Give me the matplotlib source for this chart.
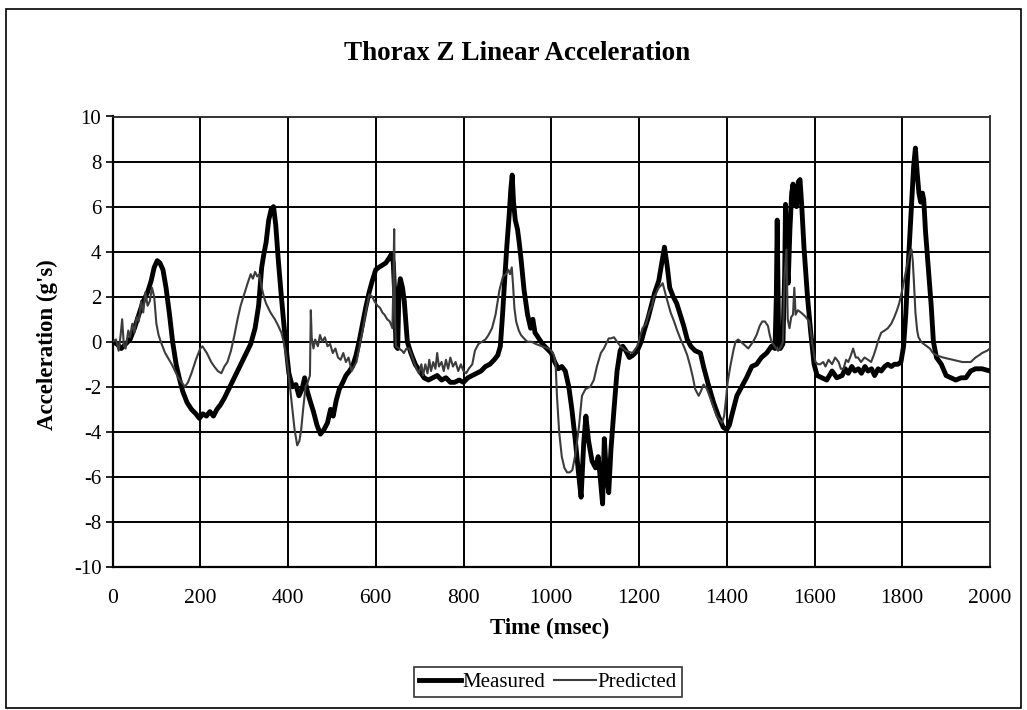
import matplotlib
matplotlib.use("Agg")
import matplotlib.pyplot as plt
from matplotlib.patches import Rectangle

plt.rcParams['font.family'] = ['Liberation Serif', 'DejaVu Serif']
plt.rcParams['axes.unicode_minus'] = False

title = "Thorax Z Linear Acceleration"
x_label = "Time (msec)"
y_label = "Acceleration (g's)"
series_names = ["Measured", "Predicted"]
x_ticks = [0, 200, 400, 600, 800, 1000, 1200, 1400, 1600, 1800, 2000]
y_ticks = [-10, -8, -6, -4, -2, 0, 2, 4, 6, 8, 10]

meas_t = [0, 10, 20, 30, 40, 50, 60, 70, 80, 88, 95, 102, 108, 115, 122, 130, 137, 145, 152, 160,
          170, 180, 190, 198, 206, 214, 222, 230, 238, 246, 255, 265, 275, 285, 295, 305, 315, 325,
          333, 340, 345, 350, 356, 362, 367, 372, 378, 384, 390, 396, 402, 410, 418, 425, 432, 438,
          444, 450, 458, 466, 474, 482, 490, 497, 503, 510, 517, 525, 532, 540, 547, 555, 562, 570,
          577, 585, 592, 600, 607, 615, 623, 630, 636, 640, 643, 646, 650, 653, 656, 661, 665, 672,
          680, 690, 700, 710, 720, 730, 740, 750, 760, 770, 780, 790, 800, 810, 820, 830, 840, 850,
          860, 870, 878, 884, 889, 894, 899, 904, 908, 911, 914, 918, 923, 927, 931, 938, 946, 953,
          958, 963, 970, 980, 990, 1000, 1008, 1016, 1024, 1032, 1040, 1047, 1055, 1062, 1068, 1074,
          1079, 1085, 1093, 1101, 1107, 1112, 1117, 1121, 1126, 1131, 1136, 1143, 1150, 1157, 1163,
          1170, 1178, 1186, 1196, 1205, 1212, 1220, 1228, 1236, 1245, 1252, 1258, 1264, 1270, 1278,
          1286, 1294, 1302, 1310, 1318, 1328, 1340, 1347, 1358, 1370, 1381, 1392, 1400, 1406, 1411,
          1423, 1434, 1445, 1457, 1468, 1479, 1491, 1502, 1510, 1513, 1515, 1518, 1522, 1528, 1532,
          1534, 1537, 1540, 1544, 1548, 1551, 1555, 1559, 1563, 1567, 1571, 1576, 1584, 1591, 1599,
          1606, 1617, 1628, 1640, 1651, 1663, 1670, 1677, 1685, 1692, 1700, 1707, 1715, 1722, 1730,
          1737, 1745, 1752, 1760, 1767, 1775, 1782, 1790, 1797, 1803, 1808, 1813, 1818, 1822, 1826,
          1830, 1834, 1838, 1842, 1846, 1849, 1853, 1860, 1866, 1871, 1878, 1889, 1900, 1911, 1922,
          1934, 1945, 1956, 1967, 1982, 2000]
meas_v = [0.0, -0.1, -0.3, -0.1, 0.1, 0.6, 1.2, 1.8, 2.2, 2.7, 3.3, 3.6, 3.5, 3.2, 2.4, 1.2, 0.0, -1.0, -1.6, -2.2,
          -2.7, -3.0, -3.2, -3.4, -3.2, -3.3, -3.1, -3.3, -3.0, -2.8, -2.5, -2.1, -1.7, -1.3, -0.9, -0.5, -0.1, 0.6,
          1.6, 3.3, 3.9, 4.4, 5.4, 5.9, 6.0, 5.2, 3.6, 2.2, 0.9, -0.3, -1.4, -2.0, -1.9, -2.4, -2.1, -1.6,
          -2.2, -2.6, -3.1, -3.7, -4.1, -3.9, -3.6, -3.0, -3.3, -2.6, -2.1, -1.8, -1.5, -1.3, -1.1, -0.6, 0.0, 0.8,
          1.5, 2.2, 2.7, 3.2, 3.3, 3.4, 3.5, 3.7, 3.9, 3.5, 2.2, -0.2, -0.3, 2.3, 2.8, 2.4, 1.8, 0.0,
          -0.5, -1.0, -1.3, -1.6, -1.7, -1.6, -1.5, -1.7, -1.6, -1.8, -1.8, -1.7, -1.8, -1.6, -1.5, -1.4, -1.3, -1.1,
          -1.0, -0.8, -0.6, -0.2, 1.2, 2.8, 4.3, 5.6, 6.8, 7.4, 6.2, 5.4, 5.0, 4.4, 3.7, 2.3, 1.2, 0.6,
          1.0, 0.4, 0.2, -0.1, -0.3, -0.5, -0.9, -1.2, -1.1, -1.3, -2.0, -3.0, -4.4, -5.8, -6.9, -4.5,
          -3.3, -4.4, -5.3, -5.6, -5.1, -6.1, -7.2, -4.3, -6.0, -6.7, -4.8, -3.0, -1.3, -0.4, -0.2,
          -0.4, -0.7, -0.6, -0.4, 0.0, 0.5, 1.0, 1.6, 2.2, 2.7, 3.5, 4.2, 3.4, 2.4, 2.0,
          1.7, 1.2, 0.7, 0.1, -0.2, -0.4, -0.5, -1.1, -1.9, -2.7, -3.3, -3.8, -3.9, -3.7, -3.3,
          -2.4, -2.0, -1.6, -1.1, -1.0, -0.7, -0.5, -0.2, -0.3, 2.0, 5.4, 0.5, -0.3, -0.1, 3.0,
          6.1, 3.5, 2.6, 5.0, 6.6, 7.0, 6.2, 6.0, 7.1, 7.2, 6.0, 4.2, 2.0, 0.5, -1.0,
          -1.5, -1.6, -1.7, -1.3, -1.6, -1.5, -1.2, -1.4, -1.1, -1.3, -1.2, -1.4, -1.1, -1.3, -1.2,
          -1.5, -1.2, -1.3, -1.1, -1.0, -1.1, -1.0, -1.0, -0.9, -0.2, 1.2, 3.2, 5.0, 6.5, 7.8,
          8.6, 7.5, 6.6, 6.2, 6.6, 6.3, 4.9, 3.1, 1.6, 0.0, -0.7, -1.0, -1.5, -1.6, -1.7,
          -1.6, -1.6, -1.3, -1.2, -1.2, -1.3]

pred_t = [0, 8, 14, 18, 22, 26, 30, 36, 40, 45, 50, 55, 60, 65, 70, 75, 80, 85, 90, 95, 100, 105, 110,
          120, 135, 150, 165, 172, 180, 190, 200, 205, 215, 225, 232, 240, 248, 255, 262, 270, 278, 285,
          292, 300, 308, 315, 320, 325, 330, 335, 340, 345, 350, 360, 370, 378, 385, 390, 395, 400, 405,
          410, 415, 421, 426, 430, 435, 440, 445, 450, 452, 454, 458, 462, 468, 473, 478, 484, 490, 496,
          502, 508, 514, 520, 526, 532, 538, 545, 550, 556, 562, 570, 577, 585, 592, 597, 604, 610, 615,
          620, 626, 632, 638, 640, 642, 644, 646, 653, 660, 664, 670, 676, 682, 687, 693, 698, 704, 708,
          713, 718, 722, 726, 731, 736, 740, 744, 750, 755, 760, 765, 770, 776, 782, 788, 794, 800, 806,
          812, 820, 826, 834, 842, 850, 857, 865, 873, 882, 890, 897, 902, 906, 910, 913, 916, 920, 926,
          931, 940, 946, 955, 965, 979, 994, 1000, 1006, 1010, 1013, 1018, 1024, 1030, 1036, 1042, 1048,
          1055, 1063, 1070, 1078, 1089, 1097, 1104, 1113, 1120, 1125, 1131, 1136, 1143, 1150, 1158, 1170,
          1185, 1196, 1208, 1216, 1223, 1230, 1234, 1240, 1245, 1250, 1254, 1258, 1262, 1272, 1280, 1287,
          1295, 1302, 1310, 1317, 1323, 1328, 1336, 1341, 1347, 1355, 1366, 1377, 1385, 1389, 1394, 1398,
          1402, 1408, 1415, 1420, 1426, 1432, 1438, 1449, 1460, 1468, 1475, 1481, 1487, 1494, 1498, 1502,
          1509, 1517, 1524, 1528, 1532, 1536, 1539, 1543, 1547, 1551, 1554, 1557, 1562, 1569, 1575, 1580,
          1588, 1592, 1595, 1602, 1608, 1613, 1620, 1625, 1632, 1640, 1647, 1655, 1660, 1666, 1672, 1677,
          1683, 1688, 1694, 1699, 1706, 1714, 1722, 1729, 1735, 1740, 1746, 1752, 1760, 1767, 1775, 1782,
          1788, 1793, 1800, 1804, 1808, 1812, 1815, 1818, 1821, 1824, 1827, 1830, 1834, 1837, 1843, 1849,
          1856, 1863, 1870, 1878, 1893, 1915, 1937, 1956, 1967, 1975, 1982, 1993, 2000]
pred_v = [0.0, 0.1, -0.4, 0.2, 1.0, -0.2, -0.3, 0.5, 0.2, 0.8, 0.4, 1.1, 0.9, 1.8, 1.3, 2.2, 1.6, 1.8, 2.4, 2.0, 0.8, 0.3, 0.0,
          -0.5, -1.0, -1.6, -2.0, -1.8, -1.4, -0.8, -0.3, -0.2, -0.5, -0.9, -1.1, -1.3, -1.4, -1.1, -0.9, -0.4, 0.3, 1.0,
          1.6, 2.1, 2.6, 3.0, 2.8, 3.1, 2.9, 3.0, 2.4, 2.0, 1.7, 1.3, 1.0, 0.7, 0.4, 0.0, -0.5, -1.2, -2.1,
          -3.0, -3.9, -4.6, -4.4, -3.9, -2.9, -2.0, -1.8, -1.5, 1.4, 0.2, -0.3, 0.1, -0.2, 0.3, 0.0, 0.2, -0.2, -0.1,
          -0.5, -0.3, -0.7, -0.8, -0.5, -0.9, -0.7, -1.3, -1.1, -0.9, -0.3, 0.5, 1.3, 2.1, 2.0, 1.8, 1.6, 1.5, 1.3,
          1.2, 1.0, 0.9, 0.6, 2.5, 5.0, 1.0, -0.2, -0.3, -0.4, -0.5, -0.3, -0.3, -0.6, -0.9, -1.2, -1.4, -1.0, -1.5,
          -1.0, -1.4, -0.8, -1.3, -0.9, -1.2, -0.5, -1.1, -0.9, -1.3, -0.8, -1.2, -0.7, -1.1, -0.9, -1.3, -1.0, -1.3, -1.4,
          -1.2, -1.0, -0.4, -0.1, 0.0, 0.1, 0.3, 0.6, 1.2, 2.3, 2.9, 3.0, 3.2, 3.0, 3.3, 2.5, 1.5, 0.9, 0.5,
          0.3, 0.1, 0.0, 0.0, -0.1, -0.2, -0.3, -0.4, -0.6, -1.0, -2.4, -4.0, -5.1, -5.6, -5.8, -5.8, -5.7,
          -5.0, -3.8, -2.4, -2.1, -2.0, -1.7, -1.1, -0.5, -0.3, -0.1, 0.15, 0.15, 0.2, 0.0, -0.2, -0.4,
          -0.5, -0.2, 0.6, 0.8, 1.3, 1.6, 2.0, 2.2, 2.4, 2.5, 2.6, 2.3, 2.0, 1.3, 0.9, 0.5,
          0.1, -0.2, -0.6, -1.1, -1.6, -2.1, -2.4, -2.2, -1.9, -2.1, -2.7, -3.3, -3.5, -3.6, -3.3, -2.6,
          -1.8, -1.1, -0.4, 0.0, 0.1, 0.0, -0.1, -0.3, 0.0, 0.3, 0.7, 0.9, 0.9, 0.7, 0.3, 0.0,
          -0.2, -0.4, -0.2, 0.0, 3.0, 4.1, 1.0, 0.6, 1.1, 1.2, 2.4, 1.2, 1.4, 1.3, 1.2, 1.1,
          0.9, 0.4, -0.1, -0.9, -1.0, -1.0, -0.9, -1.1, -0.8, -1.0, -0.7, -0.9, -1.2, -1.2, -0.8, -0.9,
          -0.6, -0.3, -0.7, -0.7, -0.9, -0.7, -0.8, -0.9, -0.6, -0.3, 0.1, 0.4, 0.5, 0.6, 0.8, 1.1,
          1.4, 1.7, 2.3, 2.7, 3.1, 3.5, 3.8, 4.0, 4.1, 3.6, 2.5, 1.3, 0.5, 0.2, 0.0, -0.1,
          -0.2, -0.3, -0.5, -0.6, -0.7, -0.8, -0.9, -0.9, -0.7, -0.6, -0.5, -0.4, -0.3]

W, H = 1027, 710
fig = plt.figure(figsize=(W / 100, H / 100), dpi=100)
fig.patch.set_facecolor('white')

# outer chart border
fig.add_artist(Rectangle((6 / W, 2 / H), (1021 - 6) / W, (701 - 2) / H, transform=fig.transFigure,
                         fill=False, edgecolor='black', linewidth=1.2))

left, right, top, bottom = 112.5, 990, 116.5, 567
ax = fig.add_axes([left / W, 1 - bottom / H, (right - left) / W, (bottom - top) / H])

ax.plot(meas_t, meas_v, color='black', linewidth=3.5, label=series_names[0], zorder=3,
        solid_joinstyle='round')
ax.plot(pred_t, pred_v, color='#3c3c3c', linewidth=1.5, label=series_names[1], zorder=4)

ax.set_xlim(0, 2000)
ax.set_ylim(-10, 10)
ax.set_xticks(x_ticks)
ax.set_xticklabels([str(v) for v in x_ticks], fontsize=15.5)
ax.set_yticks(y_ticks)
ax.set_yticklabels([str(v) for v in y_ticks], fontsize=15)
ax.tick_params(axis='x', length=0, pad=16)
ax.tick_params(axis='y', length=5, width=1.2, direction='out', pad=3)

ax.grid(True, color='black', linewidth=1.4, zorder=1)
ax.set_axisbelow(True)
for gl, v in zip(ax.yaxis.get_gridlines(), y_ticks):
    if v == 10:
        gl.set_visible(False)
for gl, v in zip(ax.xaxis.get_gridlines(), x_ticks):
    if v in (0, 2000):
        gl.set_visible(False)

for s in ('left', 'bottom'):
    ax.spines[s].set_linewidth(1.6)
    ax.spines[s].set_color('black')
for s in ('top', 'right'):
    ax.spines[s].set_linewidth(1.3)
    ax.spines[s].set_linestyle((0, (2, 1)))
    ax.spines[s].set_color('#222222')

fig.text(517.5 / W, 1 - 54 / H, title, ha='center', va='center', fontsize=19.5, fontweight='bold')
fig.text(550 / W, 1 - 628 / H, x_label, ha='center', va='center', fontsize=16.5, fontweight='bold')
fig.text(47 / W, 1 - 345 / H, y_label, ha='center', va='center', rotation=90, fontsize=16.5,
         fontweight='bold')

leg = fig.legend(loc='center', bbox_to_anchor=(548 / W, 1 - 682 / H), ncol=2, frameon=True,
                 fancybox=False, shadow=False, fontsize=15, handlelength=2.0, handletextpad=0.1,
                 columnspacing=0.4, borderpad=0.25, borderaxespad=0)
leg.get_frame().set_edgecolor('black')
leg.get_frame().set_linewidth(1.2)

fig.savefig('out.png', dpi=100, facecolor='white')
